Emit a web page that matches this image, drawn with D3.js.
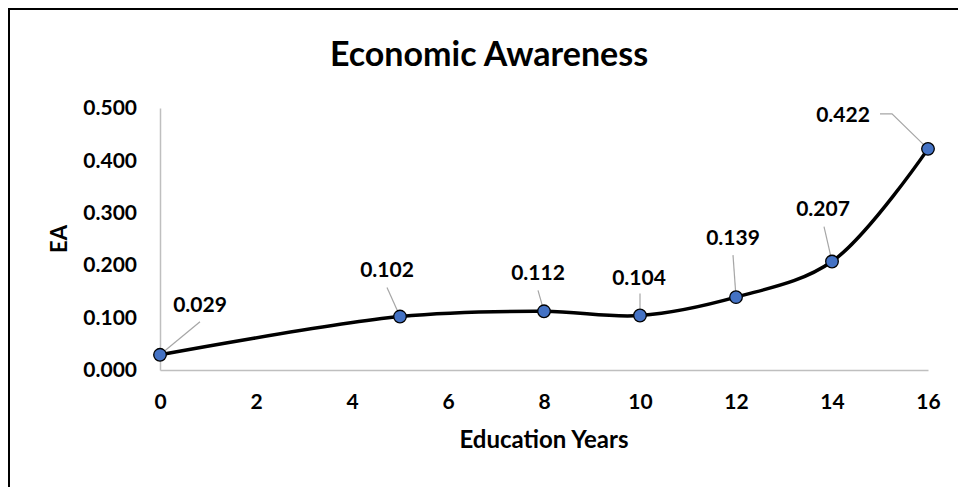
<!DOCTYPE html>
<html>
<head>
<meta charset="utf-8">
<script src="https://cdn.jsdelivr.net/npm/d3@7"></script>
<style>
  html, body { margin: 0; padding: 0; background: #fff; }
  svg { display: block; }
  text { font-family: Lato, "Open Sans", sans-serif; font-weight: bold; fill: #000; }
</style>
</head>
<body>
<svg id="chart" width="958" height="487"></svg>
<script>
// ---- data ----
const educationYears = [0, 5, 8, 10, 12, 14, 16];
const eaValues = [0.029, 0.102, 0.112, 0.104, 0.139, 0.207, 0.422];
const xTicks = [0, 2, 4, 6, 8, 10, 12, 14, 16];
const yTicks = [0, 0.1, 0.2, 0.3, 0.4, 0.5];
const chartTitle = "Economic Awareness";
const xTitle = "Education Years";
const yTitle = "EA";

// ---- layout (label placement relative to each point, px) ----
const labelOffsets = [
  {dx: 40, dy: -50, lx: 40, ly: -33},
  {dx: -13, dy: -47, lx: -13, ly: -29},
  {dx: -6, dy: -39, lx: -6, ly: -21},
  {dx: -1, dy: -38, lx: 0, ly: -22},
  {dx: -3, dy: -60, lx: -3, ly: -42},
  {dx: -9, dy: -53, lx: -8, ly: -35},
  {dx: -85, dy: -34, lx: -36, ly: -35, hx: -48}
];

const svg = d3.select("#chart");
const W = 958, H = 487;

// outer chart border (only top/left edges visible in the frame)
svg.append("rect").attr("x", 9).attr("y", 9).attr("width", W + 20).attr("height", H + 20)
  .attr("fill", "none").attr("stroke", "#000").attr("stroke-width", 2);

const x = d3.scaleLinear().domain([0, 16]).range([160, 928]);
const y = d3.scaleLinear().domain([0, 0.5]).range([370, 108]);

// axes
const xAxis = svg.append("g").attr("transform", `translate(0,${y(0)})`)
  .call(d3.axisBottom(x).tickValues(xTicks).tickSize(0).tickPadding(24).tickFormat(d3.format("d")));
const yAxis = svg.append("g").attr("transform", `translate(${x(0)},0)`)
  .call(d3.axisLeft(y).tickValues(yTicks).tickSize(0).tickPadding(23).tickFormat(d3.format(".3f")));
[xAxis, yAxis].forEach(g => {
  g.select(".domain").attr("stroke", "#BFBFBF").attr("stroke-width", 1.5);
  g.selectAll("text").attr("font-family", "Lato, sans-serif").attr("font-weight", "bold")
    .attr("font-size", 21).attr("fill", "#000");
});
xAxis.selectAll("text").attr("dy", "0.71em").attr("y", 24);

// titles
svg.append("text").attr("x", 489).attr("y", 66).attr("text-anchor", "middle")
  .attr("font-size", 34).text(chartTitle);
svg.append("text").attr("x", 544).attr("y", 448).attr("text-anchor", "middle")
  .attr("font-size", 24).text(xTitle);
svg.append("text").attr("transform", `translate(67,239) rotate(-90)`).attr("text-anchor", "middle")
  .attr("font-size", 22).text(yTitle);

const pts = educationYears.map((e, i) => ({x: x(e), y: y(eaValues[i]), v: eaValues[i], o: labelOffsets[i]}));

// leader lines
svg.append("g").selectAll("path").data(pts).join("path")
  .attr("d", p => {
    const o = p.o;
    if (o.hx !== undefined) return `M${p.x + o.hx},${p.y + o.ly}H${p.x + o.lx}L${p.x},${p.y}`;
    return `M${p.x + o.lx},${p.y + o.ly}L${p.x},${p.y}`;
  })
  .attr("fill", "none").attr("stroke", "#A6A6A6").attr("stroke-width", 1.2);

// smoothed line
const line = d3.line().x(d => d.x).y(d => d.y).curve(d3.curveCatmullRom.alpha(0.5));
svg.append("path").datum(pts).attr("d", line)
  .attr("fill", "none").attr("stroke", "#000").attr("stroke-width", 3.5)
  .attr("stroke-linejoin", "round").attr("stroke-linecap", "round");

// markers
svg.append("g").selectAll("circle").data(pts).join("circle")
  .attr("cx", p => p.x).attr("cy", p => p.y).attr("r", 6.3)
  .attr("fill", "#4472C4").attr("stroke", "#000").attr("stroke-width", 1.3);

// data labels
svg.append("g").selectAll("text").data(pts).join("text")
  .attr("x", p => p.x + p.o.dx).attr("y", p => p.y + p.o.dy)
  .attr("dy", "0.36em").attr("text-anchor", "middle").attr("font-size", 21)
  .text(p => d3.format(".3f")(p.v));
</script>
</body>
</html>
